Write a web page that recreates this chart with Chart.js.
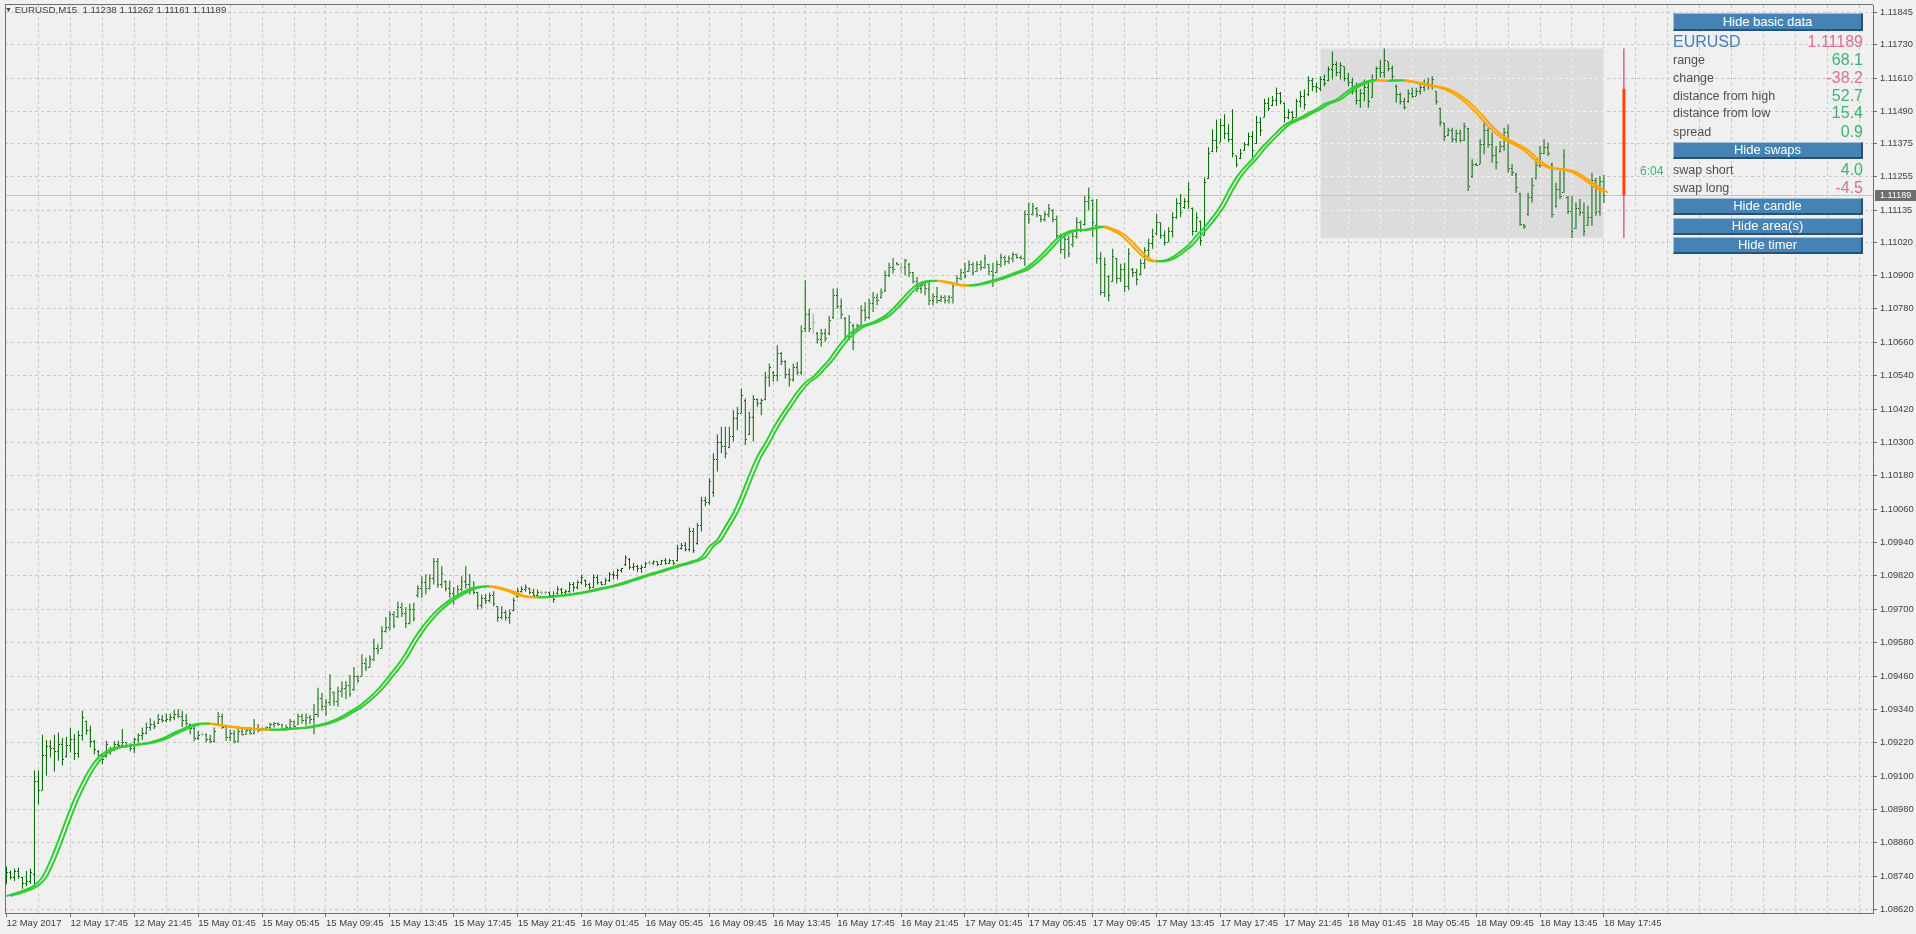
<!DOCTYPE html>
<html><head><meta charset="utf-8">
<script src="https://cdn.jsdelivr.net/npm/chart.js@4.4.1/dist/chart.umd.min.js"></script>
<style>
html,body{margin:0;padding:0;background:#F0F0F0;overflow:hidden;}
#wrap{position:relative;width:1916px;height:934px;}
#c{position:absolute;left:0;top:0;}
.t{position:absolute;font-family:"Liberation Sans",Arial,sans-serif;white-space:nowrap;}
.row{position:absolute;left:1673px;width:190px;display:flex;justify-content:space-between;align-items:center;font-family:"Liberation Sans",Arial,sans-serif;white-space:nowrap;}
.lab{font-size:12.5px;color:#505050;}
.val{font-size:16px;}
.btn{position:absolute;left:1673px;width:190px;background:#4682B4;color:#ffffff;font:13px "Liberation Sans",Arial,sans-serif;text-align:center;box-sizing:border-box;border-top:1px solid #9CC0E0;border-left:1px solid #9CC0E0;border-bottom:2px solid #23527C;border-right:2px solid #23527C;}
</style></head><body>
<div id="wrap">
<canvas id="c" width="1916" height="934"></canvas>
<div class="t" id="title" style="left:5px;top:4px;font-size:9.7px;line-height:12px;color:#3c3c3c;"></div>
<div class="btn" style="top:13px;height:18px;line-height:15px;">Hide basic data</div>
<div class="row" style="top:32px;height:20px;"><span style="font-size:16px;color:#4A7EBB;">EURUSD</span><span id="vPrice" class="val" style="color:#DB7093;"></span></div>
<div class="row" style="top:51px;height:18px;"><span class="lab">range</span><span id="vRange" class="val" style="color:#3CB371;"></span></div>
<div class="row" style="top:69px;height:18px;"><span class="lab">change</span><span id="vChange" class="val" style="color:#DB7093;"></span></div>
<div class="row" style="top:87px;height:18px;"><span class="lab">distance from high</span><span id="vDH" class="val" style="color:#3CB371;"></span></div>
<div class="row" style="top:104px;height:18px;"><span class="lab">distance from low</span><span id="vDL" class="val" style="color:#3CB371;"></span></div>
<div class="row" style="top:123px;height:18px;"><span class="lab">spread</span><span id="vSpread" class="val" style="color:#3CB371;"></span></div>
<div class="btn" style="top:142px;height:17px;line-height:14px;">Hide swaps</div>
<div class="row" style="top:161px;height:18px;"><span class="lab">swap short</span><span id="vSS" class="val" style="color:#3CB371;"></span></div>
<div class="row" style="top:179px;height:18px;"><span class="lab">swap long</span><span id="vSL" class="val" style="color:#DB7093;"></span></div>
<div class="btn" style="top:198px;height:17px;line-height:14px;">Hide candle</div>
<div class="btn" style="top:218px;height:17px;line-height:14px;">Hide area(s)</div>
<div class="btn" style="top:237px;height:17px;line-height:14px;">Hide timer</div>
<div class="t" id="timer" style="left:1640px;top:164px;font-size:12px;line-height:14px;color:#3CB371;"></div>
</div>
<script>
// ---------------- data ----------------
const symbol = "EURUSD,M15";
const timeLabels = ["12 May 2017","12 May 17:45","12 May 21:45","15 May 01:45","15 May 05:45","15 May 09:45","15 May 13:45","15 May 17:45","15 May 21:45","16 May 01:45","16 May 05:45","16 May 09:45","16 May 13:45","16 May 17:45","16 May 21:45","17 May 01:45","17 May 05:45","17 May 09:45","17 May 13:45","17 May 17:45","17 May 21:45","18 May 01:45","18 May 05:45","18 May 09:45","18 May 13:45","18 May 17:45"];
const priceTickLabels = ["1.11845","1.11730","1.11610","1.11490","1.11375","1.11255","1.11135","1.11020","1.10900","1.10780","1.10660","1.10540","1.10420","1.10300","1.10180","1.10060","1.09940","1.09820","1.09700","1.09580","1.09460","1.09340","1.09220","1.09100","1.08980","1.08860","1.08740","1.08620"];

const opens = [
1.08735,1.08755,1.08735,1.08758,1.08735,1.08715,1.08720,1.08745,1.09080,1.09050,
1.09175,1.09205,1.09200,1.09190,1.09215,1.09170,1.09210,1.09230,1.09180,1.09245,
1.09295,1.09265,1.09225,1.09190,1.09175,1.09170,1.09195,1.09200,1.09215,1.09210,
1.09220,1.09210,1.09200,1.09230,1.09245,1.09255,1.09275,1.09285,1.09290,1.09305,
1.09300,1.09305,1.09310,1.09320,1.09315,1.09300,1.09285,1.09270,1.09235,1.09251,
1.09250,1.09230,1.09225,1.09290,1.09315,1.09275,1.09240,1.09255,1.09225,1.09260,
1.09250,1.09265,1.09255,1.09270,1.09265,1.09270,1.09275,1.09285,1.09290,1.09285,
1.09270,1.09275,1.09295,1.09285,1.09315,1.09300,1.09310,1.09305,1.09320,1.09380,
1.09350,1.09365,1.09400,1.09370,1.09405,1.09415,1.09425,1.09410,1.09460,1.09460,
1.09505,1.09490,1.09520,1.09560,1.09560,1.09620,1.09635,1.09680,1.09675,1.09705,
1.09685,1.09650,1.09700,1.09750,1.09775,1.09795,1.09775,1.09810,1.09870,1.09790,
1.09800,1.09775,1.09755,1.09750,1.09770,1.09800,1.09790,1.09770,1.09760,1.09715,
1.09740,1.09730,1.09750,1.09710,1.09670,1.09690,1.09670,1.09695,1.09745,1.09765,
1.09770,1.09775,1.09760,1.09750,1.09760,1.09760,1.09760,1.09750,1.09755,1.09770,
1.09760,1.09765,1.09790,1.09780,1.09795,1.09805,1.09790,1.09780,1.09815,1.09795,
1.09790,1.09805,1.09825,1.09820,1.09840,1.09860,1.09880,1.09850,1.09855,1.09845,
1.09850,1.09868,1.09865,1.09870,1.09862,1.09875,1.09865,1.09875,1.09875,1.09920,
1.09930,1.09915,1.09980,1.09935,1.10000,1.10090,1.10085,1.10120,1.10240,1.10300,
1.10285,1.10280,1.10320,1.10385,1.10405,1.10450,1.10330,1.10390,1.10455,1.10440,
1.10455,1.10535,1.10550,1.10540,1.10620,1.10590,1.10545,1.10525,1.10570,1.10550,
1.10710,1.10760,1.10730,1.10690,1.10670,1.10690,1.10690,1.10750,1.10830,1.10790,
1.10745,1.10680,1.10720,1.10700,1.10720,1.10775,1.10750,1.10800,1.10820,1.10820,
1.10845,1.10900,1.10930,1.10945,1.10930,1.10930,1.10940,1.10910,1.10880,1.10855,
1.10865,1.10850,1.10810,1.10825,1.10810,1.10820,1.10810,1.10820,1.10870,1.10890,
1.10910,1.10915,1.10940,1.10915,1.10940,1.10930,1.10940,1.10915,1.10910,1.10940,
1.10965,1.10950,1.10960,1.10975,1.10965,1.10960,1.11120,1.11120,1.11140,1.11115,
1.11100,1.11120,1.11135,1.11100,1.11045,1.10995,1.11030,1.11010,1.11040,1.11090,
1.11085,1.11165,1.11170,1.11080,1.10960,1.10840,1.10895,1.10880,1.10960,1.10890,
1.10920,1.10860,1.10920,1.10910,1.10905,1.10945,1.10990,1.11015,1.11050,1.11090,
1.11045,1.11020,1.11060,1.11110,1.11160,1.11145,1.11165,1.11140,1.11060,1.11095,
1.11045,1.11250,1.11345,1.11385,1.11380,1.11440,1.11410,1.11390,1.11330,1.11320,
1.11350,1.11370,1.11400,1.11375,1.11450,1.11470,1.11520,1.11510,1.11530,1.11555,
1.11520,1.11470,1.11485,1.11470,1.11525,1.11545,1.11550,1.11600,1.11580,1.11571,
1.11605,1.11600,1.11640,1.11660,1.11630,1.11650,1.11610,1.11595,1.11560,1.11530,
1.11555,1.11575,1.11540,1.11605,1.11645,1.11630,1.11670,1.11645,1.11580,1.11550,
1.11525,1.11525,1.11555,1.11545,1.11560,1.11575,1.11590,1.11580,1.11560,1.11500,
1.11445,1.11405,1.11420,1.11390,1.11410,1.11385,1.11430,1.11255,1.11300,1.11300,
1.11370,1.11420,1.11370,1.11330,1.11345,1.11365,1.11415,1.11285,1.11265,1.11195,
1.11080,1.11120,1.11180,1.11250,1.11295,1.11340,1.11360,1.11300,1.11150,1.11210,
1.11200,1.11180,1.11130,1.11070,1.11140,1.11125,1.11080,1.11110,1.11240,1.11130,
1.11238];
const highs = [
1.08775,1.08761,1.08768,1.08771,1.08737,1.08759,1.08767,1.09120,1.09120,1.09249,
1.09230,1.09230,1.09249,1.09257,1.09237,1.09241,1.09273,1.09251,1.09263,1.09335,
1.09299,1.09281,1.09230,1.09194,1.09182,1.09227,1.09206,1.09225,1.09227,1.09269,
1.09221,1.09218,1.09237,1.09253,1.09275,1.09293,1.09308,1.09299,1.09323,1.09320,
1.09325,1.09325,1.09337,1.09341,1.09335,1.09323,1.09289,1.09281,1.09263,1.09257,
1.09253,1.09249,1.09275,1.09331,1.09325,1.09275,1.09268,1.09265,1.09275,1.09269,
1.09275,1.09277,1.09305,1.09287,1.09275,1.09279,1.09292,1.09294,1.09293,1.09287,
1.09285,1.09305,1.09299,1.09325,1.09323,1.09325,1.09320,1.09359,1.09418,1.09400,
1.09377,1.09466,1.09404,1.09421,1.09440,1.09442,1.09464,1.09492,1.09463,1.09538,
1.09526,1.09535,1.09594,1.09574,1.09639,1.09672,1.09693,1.09693,1.09727,1.09723,
1.09708,1.09720,1.09723,1.09786,1.09819,1.09825,1.09827,1.09884,1.09884,1.09855,
1.09803,1.09803,1.09779,1.09786,1.09819,1.09855,1.09827,1.09801,1.09763,1.09753,
1.09755,1.09759,1.09765,1.09711,1.09711,1.09696,1.09699,1.09741,1.09777,1.09783,
1.09789,1.09777,1.09774,1.09771,1.09767,1.09767,1.09765,1.09765,1.09783,1.09777,
1.09771,1.09798,1.09798,1.09803,1.09825,1.09807,1.09795,1.09825,1.09825,1.09801,
1.09813,1.09834,1.09837,1.09846,1.09849,1.09894,1.09884,1.09866,1.09860,1.09860,
1.09872,1.09875,1.09875,1.09872,1.09878,1.09884,1.09882,1.09875,1.09932,1.09938,
1.09942,1.09994,1.09992,1.10010,1.10105,1.10105,1.10171,1.10261,1.10329,1.10356,
1.10356,1.10356,1.10416,1.10428,1.10494,1.10458,1.10410,1.10470,1.10458,1.10458,
1.10554,1.10584,1.10556,1.10649,1.10625,1.10595,1.10566,1.10584,1.10589,1.10720,
1.10883,1.10781,1.10763,1.10697,1.10709,1.10709,1.10755,1.10853,1.10853,1.10817,
1.10751,1.10757,1.10727,1.10727,1.10793,1.10805,1.10817,1.10841,1.10835,1.10853,
1.10918,1.10946,1.10963,1.10948,1.10946,1.10960,1.10946,1.10913,1.10895,1.10877,
1.10877,1.10883,1.10835,1.10859,1.10829,1.10829,1.10829,1.10871,1.10901,1.10924,
1.10946,1.10954,1.10948,1.10951,1.10954,1.10975,1.10942,1.10946,1.10954,1.10978,
1.10972,1.10972,1.10984,1.10978,1.10972,1.11134,1.11163,1.11161,1.11146,1.11118,
1.11130,1.11157,1.11139,1.11116,1.11050,1.11050,1.11044,1.11058,1.11110,1.11098,
1.11187,1.11217,1.11173,1.11175,1.10984,1.10965,1.10901,1.10996,1.10963,1.10942,
1.10946,1.10998,1.10927,1.10924,1.10960,1.11002,1.11032,1.11068,1.11122,1.11092,
1.11062,1.11074,1.11128,1.11178,1.11193,1.11178,1.11235,1.11145,1.11128,1.11098,
1.11253,1.11361,1.11426,1.11460,1.11465,1.11480,1.11444,1.11498,1.11331,1.11355,
1.11379,1.11414,1.11420,1.11474,1.11468,1.11536,1.11540,1.11546,1.11576,1.11560,
1.11522,1.11498,1.11492,1.11536,1.11564,1.11569,1.11617,1.11611,1.11593,1.11617,
1.11623,1.11652,1.11706,1.11670,1.11667,1.11652,1.11629,1.11611,1.11593,1.11571,
1.11605,1.11593,1.11623,1.11652,1.11676,1.11716,1.11670,1.11655,1.11587,1.11557,
1.11539,1.11569,1.11575,1.11575,1.11593,1.11605,1.11611,1.11617,1.11563,1.11503,
1.11449,1.11431,1.11431,1.11425,1.11425,1.11449,1.11431,1.11318,1.11306,1.11390,
1.11449,1.11431,1.11414,1.11366,1.11384,1.11431,1.11443,1.11300,1.11270,1.11198,
1.11085,1.11198,1.11252,1.11318,1.11366,1.11390,1.11378,1.11306,1.11234,1.11276,
1.11354,1.11186,1.11186,1.11163,1.11175,1.11163,1.11151,1.11270,1.11252,1.11258,
1.11262];
const lows = [
1.08711,1.08728,1.08723,1.08731,1.08695,1.08704,1.08713,1.08711,1.08998,1.09048,
1.09102,1.09167,1.09117,1.09155,1.09138,1.09167,1.09185,1.09158,1.09165,1.09227,
1.09249,1.09203,1.09179,1.09161,1.09143,1.09167,1.09177,1.09189,1.09203,1.09203,
1.09201,1.09189,1.09182,1.09221,1.09230,1.09251,1.09263,1.09269,1.09287,1.09293,
1.09293,1.09296,1.09301,1.09308,1.09277,1.09281,1.09251,1.09225,1.09230,1.09245,
1.09221,1.09218,1.09221,1.09287,1.09269,1.09227,1.09225,1.09218,1.09221,1.09245,
1.09249,1.09249,1.09251,1.09257,1.09263,1.09263,1.09265,1.09275,1.09281,1.09265,
1.09263,1.09269,1.09275,1.09285,1.09289,1.09281,1.09287,1.09251,1.09311,1.09335,
1.09317,1.09353,1.09353,1.09349,1.09383,1.09377,1.09385,1.09406,1.09436,1.09457,
1.09478,1.09490,1.09514,1.09538,1.09556,1.09616,1.09624,1.09633,1.09669,1.09672,
1.09633,1.09645,1.09657,1.09741,1.09741,1.09753,1.09771,1.09789,1.09777,1.09777,
1.09765,1.09741,1.09717,1.09747,1.09765,1.09774,1.09753,1.09753,1.09699,1.09703,
1.09719,1.09723,1.09711,1.09655,1.09663,1.09660,1.09648,1.09693,1.09741,1.09759,
1.09763,1.09753,1.09741,1.09747,1.09753,1.09753,1.09741,1.09723,1.09753,1.09747,
1.09747,1.09759,1.09763,1.09771,1.09789,1.09779,1.09771,1.09777,1.09789,1.09786,
1.09789,1.09798,1.09807,1.09807,1.09831,1.09855,1.09843,1.09839,1.09834,1.09831,
1.09849,1.09860,1.09860,1.09855,1.09860,1.09860,1.09863,1.09858,1.09872,1.09914,
1.09908,1.09908,1.09902,1.09932,1.09980,1.10070,1.10076,1.10105,1.10195,1.10261,
1.10243,1.10279,1.10303,1.10344,1.10404,1.10291,1.10327,1.10303,1.10428,1.10398,
1.10452,1.10500,1.10518,1.10520,1.10578,1.10530,1.10500,1.10518,1.10542,1.10542,
1.10697,1.10697,1.10691,1.10656,1.10644,1.10662,1.10685,1.10745,1.10781,1.10745,
1.10668,1.10668,1.10632,1.10697,1.10709,1.10736,1.10745,1.10769,1.10793,1.10817,
1.10841,1.10895,1.10907,1.10936,1.10907,1.10901,1.10895,1.10871,1.10841,1.10835,
1.10829,1.10793,1.10793,1.10799,1.10805,1.10799,1.10799,1.10799,1.10865,1.10883,
1.10889,1.10913,1.10901,1.10913,1.10918,1.10924,1.10901,1.10859,1.10907,1.10930,
1.10936,1.10942,1.10948,1.10960,1.10958,1.10934,1.11086,1.11116,1.11110,1.11092,
1.11094,1.11110,1.11092,1.11032,1.10978,1.10960,1.10966,1.11002,1.11032,1.11056,
1.11080,1.11134,1.11038,1.10942,1.10829,1.10823,1.10807,1.10877,1.10871,1.10877,
1.10841,1.10847,1.10895,1.10865,1.10901,1.10924,1.10966,1.10996,1.11044,1.11032,
1.11008,1.11020,1.11038,1.11104,1.11110,1.11140,1.11140,1.11044,1.11056,1.11008,
1.11044,1.11247,1.11343,1.11343,1.11379,1.11390,1.11379,1.11325,1.11289,1.11319,
1.11349,1.11367,1.11325,1.11373,1.11402,1.11468,1.11492,1.11510,1.11510,1.11516,
1.11450,1.11462,1.11456,1.11468,1.11504,1.11497,1.11545,1.11563,1.11557,1.11563,
1.11581,1.11599,1.11605,1.11617,1.11605,1.11599,1.11581,1.11551,1.11515,1.11503,
1.11527,1.11503,1.11539,1.11599,1.11611,1.11611,1.11635,1.11599,1.11521,1.11515,
1.11497,1.11521,1.11539,1.11545,1.11551,1.11563,1.11569,1.11569,1.11515,1.11437,
1.11384,1.11402,1.11378,1.11378,1.11378,1.11384,1.11204,1.11252,1.11294,1.11300,
1.11336,1.11360,1.11306,1.11282,1.11342,1.11348,1.11270,1.11258,1.11198,1.11079,
1.11067,1.11115,1.11163,1.11246,1.11288,1.11336,1.11330,1.11109,1.11145,1.11174,
1.11198,1.11121,1.11035,1.11067,1.11115,1.11043,1.11079,1.11079,1.11115,1.11115,
1.11161];
const closes = [
1.08755,1.08735,1.08758,1.08740,1.08715,1.08720,1.08755,1.09080,1.09050,1.09175,
1.09205,1.09200,1.09190,1.09215,1.09160,1.09210,1.09230,1.09180,1.09245,1.09310,
1.09265,1.09225,1.09195,1.09175,1.09160,1.09215,1.09200,1.09215,1.09210,1.09220,
1.09210,1.09200,1.09230,1.09245,1.09255,1.09275,1.09285,1.09280,1.09305,1.09300,
1.09305,1.09310,1.09320,1.09315,1.09300,1.09290,1.09270,1.09235,1.09245,1.09251,
1.09230,1.09225,1.09260,1.09315,1.09275,1.09240,1.09255,1.09225,1.09260,1.09250,
1.09265,1.09255,1.09270,1.09265,1.09270,1.09275,1.09285,1.09290,1.09285,1.09270,
1.09275,1.09295,1.09280,1.09315,1.09300,1.09310,1.09305,1.09320,1.09380,1.09350,
1.09365,1.09415,1.09370,1.09405,1.09415,1.09425,1.09395,1.09460,1.09445,1.09505,
1.09490,1.09520,1.09560,1.09550,1.09620,1.09635,1.09680,1.09640,1.09705,1.09685,
1.09650,1.09700,1.09665,1.09775,1.09795,1.09775,1.09810,1.09870,1.09790,1.09830,
1.09775,1.09755,1.09735,1.09770,1.09800,1.09790,1.09770,1.09760,1.09715,1.09740,
1.09730,1.09750,1.09720,1.09670,1.09690,1.09670,1.09685,1.09730,1.09765,1.09770,
1.09780,1.09760,1.09750,1.09760,1.09760,1.09760,1.09750,1.09735,1.09770,1.09760,
1.09765,1.09790,1.09780,1.09795,1.09815,1.09790,1.09780,1.09815,1.09795,1.09790,
1.09805,1.09825,1.09820,1.09840,1.09845,1.09885,1.09850,1.09855,1.09845,1.09850,
1.09865,1.09868,1.09870,1.09860,1.09875,1.09865,1.09875,1.09865,1.09920,1.09930,
1.09915,1.09980,1.09910,1.10000,1.10090,1.10085,1.10160,1.10240,1.10300,1.10285,
1.10260,1.10320,1.10385,1.10405,1.10470,1.10310,1.10390,1.10455,1.10440,1.10450,
1.10535,1.10570,1.10540,1.10620,1.10590,1.10545,1.10525,1.10570,1.10550,1.10700,
1.10760,1.10710,1.10730,1.10670,1.10690,1.10675,1.10740,1.10830,1.10790,1.10760,
1.10680,1.10730,1.10660,1.10720,1.10775,1.10750,1.10800,1.10820,1.10810,1.10840,
1.10900,1.10930,1.10920,1.10940,1.10930,1.10955,1.10910,1.10880,1.10855,1.10865,
1.10855,1.10810,1.10825,1.10810,1.10820,1.10810,1.10820,1.10860,1.10890,1.10910,
1.10895,1.10940,1.10910,1.10940,1.10930,1.10960,1.10915,1.10900,1.10940,1.10965,
1.10950,1.10960,1.10975,1.10965,1.10960,1.11120,1.11100,1.11150,1.11120,1.11100,
1.11120,1.11140,1.11100,1.11045,1.10995,1.11030,1.10980,1.11040,1.11090,1.11065,
1.11165,1.11180,1.11090,1.10960,1.10840,1.10940,1.10830,1.10970,1.10890,1.10920,
1.10860,1.10980,1.10910,1.10885,1.10945,1.10990,1.11015,1.11040,1.11090,1.11045,
1.11020,1.11060,1.11110,1.11160,1.11125,1.11165,1.11210,1.11060,1.11110,1.11025,
1.11235,1.11340,1.11385,1.11360,1.11440,1.11410,1.11390,1.11340,1.11300,1.11340,
1.11370,1.11400,1.11350,1.11450,1.11420,1.11520,1.11500,1.11530,1.11555,1.11525,
1.11470,1.11485,1.11470,1.11525,1.11545,1.11515,1.11600,1.11580,1.11575,1.11605,
1.11590,1.11640,1.11660,1.11630,1.11655,1.11610,1.11595,1.11560,1.11530,1.11555,
1.11575,1.11525,1.11605,1.11645,1.11630,1.11675,1.11645,1.11615,1.11550,1.11525,
1.11505,1.11555,1.11545,1.11560,1.11575,1.11590,1.11580,1.11605,1.11525,1.11450,
1.11400,1.11420,1.11390,1.11410,1.11385,1.11435,1.11220,1.11300,1.11295,1.11370,
1.11420,1.11370,1.11330,1.11305,1.11365,1.11415,1.11285,1.11270,1.11215,1.11085,
1.11075,1.11180,1.11225,1.11295,1.11340,1.11360,1.11340,1.11120,1.11210,1.11185,
1.11330,1.11130,1.11060,1.11140,1.11125,1.11060,1.11110,1.11240,1.11125,1.11238,
1.11189];

// moving average (read at these bar indexes)
const maBars = [0,4,7,9,11,13,15,17,19,21,23,25,27,30,33,36,38,40,42,44,46,48,50,53,56,59,62,65,66,69,72,75,78,80,83,85,88,90,93,96,99,
102,104,106,108,110,112,114,116,118,120,122,124,126,128,130,132,134,136,140,144,148,152,156,160,164,168,171,174,176,178,180,182,184,186,188,190,192,194,196,198,
200,202,204,206,208,210,212,214,216,218,220,222,224,226,228,230,232,234,236,238,240,241,243,246,249,252,255,257,259,261,263,265,267,270,273,274,275,277,279,281,283,285,287,288,290,292,294,296,298,
300,302,304,306,308,310,312,314,316,318,320,322,324,326,328,330,333,337,340,342,344,345,347,349,351,353,356,359,362,365,368,371,374,377,380,383,386,389,392,395,398,400];
const maValues = [1.08669,1.08687,1.08707,1.08737,1.08797,1.08869,1.08946,1.09018,1.09078,1.09129,1.09167,1.09189,1.09201,1.09209,1.09215,1.09221,1.09230,1.09241,1.09256,1.09268,1.09281,1.09288,1.09289,1.09283,1.09277,1.09273,1.09269,1.09267,1.09267,1.09268,1.09271,1.09275,1.09283,1.09290,1.09307,1.09323,1.09349,1.09371,1.09412,1.09464,1.09520,
1.09592,1.09634,1.09669,1.09699,1.09723,1.09743,1.09759,1.09773,1.09780,1.09783,1.09779,1.09772,1.09763,1.09751,1.09745,1.09743,1.09743,1.09745,1.09751,1.09760,1.09773,1.09785,1.09803,1.09822,1.09839,1.09857,1.09869,1.09887,1.09926,1.09950,1.09998,1.10046,1.10111,1.10183,1.10249,1.10297,1.10351,1.10398,1.10440,1.10482,
1.10515,1.10536,1.10566,1.10598,1.10638,1.10674,1.10700,1.10718,1.10727,1.10739,1.10755,1.10781,1.10811,1.10843,1.10867,1.10879,1.10881,1.10879,1.10873,1.10867,1.10864,1.10864,1.10868,1.10879,1.10891,1.10907,1.10924,1.10946,1.10972,1.11002,1.11032,1.11052,1.11062,1.11065,1.11074,1.11076,1.11073,1.11062,1.11046,1.11020,1.10990,1.10963,1.10951,1.10951,1.10954,1.10966,1.10987,1.11010,1.11044,
1.11074,1.11110,1.11151,1.11205,1.11253,1.11289,1.11319,1.11355,1.11385,1.11414,1.11441,1.11456,1.11468,1.11484,1.11498,1.11516,1.11533,1.11575,1.11595,1.11602,1.11601,1.11600,1.11601,1.11602,1.11599,1.11593,1.11583,1.11575,1.11557,1.11527,1.11485,1.11437,1.11399,1.11375,1.11351,1.11312,1.11288,1.11282,1.11272,1.11246,1.11216,1.11198];

// daily figures (18 May) and account figures
const dayOpen = 1.11571, dayHigh = 1.11716, dayLow = 1.11035;
const spreadPips = 0.9, swapShort = 4.0, swapLong = -4.5;
const timerText = "6:04";
const areaFromBar = 329;   // first M15 bar of 18 May
// ---------------- style constants ----------------
const maShift = 1;         // second MA line drawn one bar later
const candleOffset = 5;    // daily candle drawn 5 bars right of the last bar
const BAR_GREEN = '#006600', DOJI = '#A0A0A0', LIME = '#32CD32', ORANGE = '#FFA500';
const GRID = '#C8C8C8', AXIS = '#6E6E6E', TXT = '#404040';
const FONT = 'Liberation Sans, Arial, sans-serif';

const lastBar = closes.length - 1;
const dayClose = closes[lastBar];
const priceTicks = priceTickLabels.map(Number);
const isDoji = i => opens[i] === closes[i];

// overlay texts from data
const f5 = v => v.toFixed(5), f1 = v => (Math.round(v * 10) / 10).toFixed(1);
document.getElementById('title').innerHTML = '<span style="font-size:7px;position:relative;top:-1px;">&#9660;</span> ' + symbol + '&nbsp; ' + [opens[lastBar], highs[lastBar], lows[lastBar], closes[lastBar]].map(f5).join(' ');
document.getElementById('vPrice').textContent = f5(dayClose);
document.getElementById('vRange').textContent = f1((dayHigh - dayLow) * 1e4);
document.getElementById('vChange').textContent = f1((dayClose - dayOpen) * 1e4);
document.getElementById('vDH').textContent = f1((dayHigh - dayClose) * 1e4);
document.getElementById('vDL').textContent = f1((dayClose - dayLow) * 1e4);
document.getElementById('vSpread').textContent = spreadPips.toFixed(1);
document.getElementById('vSS').textContent = swapShort.toFixed(1);
document.getElementById('vSL').textContent = swapLong.toFixed(1);
document.getElementById('timer').textContent = timerText;

// tick images for OHLC bars (open tick left, close tick right)
function tickImg(color, right) {
  const c = document.createElement('canvas'); c.width = 3; c.height = 1;
  const g = c.getContext('2d'); g.fillStyle = color; g.fillRect(right ? 2 : 0, 0, 1, 1); return c;
}
const openG = tickImg(BAR_GREEN, false), openD = tickImg(DOJI, false);
const closeG = tickImg(BAR_GREEN, true), closeD = tickImg(DOJI, true);

const idx = opens.map((_, i) => i);
const maPts = maBars.map((b, k) => ({x: b, y: maValues[k]}));
const maPtsShift = maBars.map((b, k) => ({x: b + maShift, y: maValues[k]}));
const segColor = c => (c.p1.parsed.y < c.p0.parsed.y ? ORANGE : LIME);

const gridBars = []; for (let v = 0; v <= 464; v += 8) gridBars.push(v);

const AREA_INDEX = 0;
const datasets = [
  {type: 'line', data: [{x: areaFromBar, y: dayHigh}, {x: lastBar, y: dayHigh}], borderWidth: 0, pointRadius: 0, fill: '+1', backgroundColor: '#DCDCDC', order: 10},
  {type: 'line', data: [{x: areaFromBar, y: dayLow}, {x: lastBar, y: dayLow}], borderWidth: 0, pointRadius: 0, fill: false, order: 10},
  {type: 'bar', data: idx.map(i => ({x: i, y: [lows[i], highs[i]]})), backgroundColor: idx.map(i => isDoji(i) ? DOJI : BAR_GREEN), barThickness: 1, grouped: false, borderWidth: 0, inflateAmount: 0, order: 5},
  {type: 'scatter', data: idx.map(i => ({x: i, y: opens[i]})), pointStyle: c => isDoji(c.dataIndex) ? openD : openG, pointRadius: 1, order: 4},
  {type: 'scatter', data: idx.map(i => ({x: i, y: closes[i]})), pointStyle: c => isDoji(c.dataIndex) ? closeD : closeG, pointRadius: 1, order: 4},
  {type: 'line', data: maPtsShift, borderWidth: 2, pointRadius: 0, cubicInterpolationMode: 'monotone', segment: {borderColor: segColor}, borderColor: LIME, fill: false, order: 2},
  {type: 'line', data: maPts, borderWidth: 2, pointRadius: 0, cubicInterpolationMode: 'monotone', segment: {borderColor: segColor}, borderColor: LIME, fill: false, order: 2},
  {type: 'bar', data: [{x: lastBar + candleOffset, y: [dayLow, dayHigh]}], backgroundColor: '#DC143C', barThickness: 1, grouped: false, borderWidth: 0, inflateAmount: 0, order: 1},
  {type: 'bar', data: [{x: lastBar + candleOffset, y: [dayClose, dayOpen]}], backgroundColor: '#FF4500', barThickness: 3, grouped: false, borderWidth: 0, inflateAmount: 0, order: 0}
];

const noPad = s => { s.paddingTop = 0; s.paddingBottom = 0; s.paddingLeft = 0; s.paddingRight = 0; };

const overlay = {
  id: 'overlay',
  beforeDraw(chart) { chart.ctx.imageSmoothingEnabled = false; },
  afterDatasetDraw(chart, args) {
    if (args.index !== AREA_INDEX) return;
    const {ctx, chartArea: a, scales: {x, y}} = chart;
    const x0 = x.getPixelForValue(areaFromBar), x1 = x.getPixelForValue(lastBar);
    const y0 = y.getPixelForValue(dayHigh), y1 = y.getPixelForValue(dayLow);
    ctx.save();
    ctx.beginPath(); ctx.rect(x0, y0, x1 - x0, y1 - y0); ctx.clip();
    ctx.strokeStyle = '#F2F2F2'; ctx.lineWidth = 1; ctx.setLineDash([3, 3]);
    gridBars.forEach(v => { if (v <= 0) return; const px = Math.round(x.getPixelForValue(v) - 0.5) + 0.5;
      ctx.beginPath(); ctx.moveTo(px, a.top); ctx.lineTo(px, a.bottom); ctx.stroke(); });
    priceTicks.forEach(v => { const py = Math.round(y.getPixelForValue(v) - 0.5) + 0.5;
      ctx.beginPath(); ctx.moveTo(a.left, py); ctx.lineTo(a.right, py); ctx.stroke(); });
    ctx.restore();
    // current price line
    const py = Math.round(y.getPixelForValue(dayClose) - 0.5) + 0.5;
    ctx.save(); ctx.strokeStyle = '#C4C4C4'; ctx.lineWidth = 1;
    ctx.beginPath(); ctx.moveTo(a.left, py); ctx.lineTo(a.right, py); ctx.stroke(); ctx.restore();
  },
  afterDraw(chart) {
    const {ctx, chartArea: a, scales: {y}} = chart;
    ctx.save();
    ctx.strokeStyle = AXIS; ctx.lineWidth = 1;
    ctx.beginPath(); ctx.moveTo(a.left + 0.5, a.bottom); ctx.lineTo(a.left + 0.5, a.top - 0.5); ctx.lineTo(a.right, a.top - 0.5); ctx.stroke();
    // price label on axis
    const py = y.getPixelForValue(dayClose);
    ctx.fillStyle = '#6E6E6E'; ctx.fillRect(a.right + 2, Math.round(py) - 5, chart.width - a.right - 2, 11);
    ctx.fillStyle = '#FFFFFF'; ctx.font = '9px ' + FONT; ctx.textBaseline = 'middle'; ctx.textAlign = 'left';
    ctx.fillText(f5(dayClose), a.right + 7, Math.round(py) + 0.5);
    ctx.restore();
  }
};

new Chart(document.getElementById('c'), {
  type: 'bar',
  data: {datasets},
  options: {
    responsive: false, animation: false, events: [],
    devicePixelRatio: 1,
    layout: {padding: {left: 2, top: 2, right: 0, bottom: 0}},
    plugins: {legend: {display: false}, tooltip: {enabled: false}},
    scales: {
      x: {
        type: 'linear', min: -0.375, max: 467.375, offset: false, bounds: 'data',
        afterBuildTicks: s => { s.ticks = gridBars.map(v => ({value: v})); },
        afterFit: s => { s.height = 21; noPad(s); },
        ticks: {autoSkip: false, maxRotation: 0, minRotation: 0, align: 'start', labelOffset: 0, padding: 1,
          font: {family: FONT, size: 9.5}, color: TXT,
          callback: v => (v % 16 === 0 && v / 16 < timeLabels.length) ? timeLabels[v / 16] : ''},
        grid: {offset: false, lineWidth: 1, tickLength: 4,
          color: c => (c.tick && c.tick.value > 0) ? GRID : 'rgba(0,0,0,0)',
          tickColor: c => (c.tick && c.tick.value % 16 === 0 && c.tick.value <= lastBar) ? AXIS : 'rgba(0,0,0,0)'},
        border: {display: true, color: AXIS, width: 1, dash: [3, 3]}
      },
      y: {
        type: 'linear', position: 'right', min: 1.086078, max: 1.118728, bounds: 'data',
        afterBuildTicks: s => { s.ticks = priceTicks.map(v => ({value: v})); },
        afterFit: s => { s.width = 43; noPad(s); },
        ticks: {padding: 3, font: {family: FONT, size: 9.3}, color: TXT,
          callback: (v, i) => priceTickLabels[i]},
        grid: {lineWidth: 1, tickLength: 4, color: GRID, tickColor: AXIS},
        border: {display: true, color: AXIS, width: 1, dash: [3, 3]}
      }
    }
  },
  plugins: [overlay]
});
</script>
</body></html>
